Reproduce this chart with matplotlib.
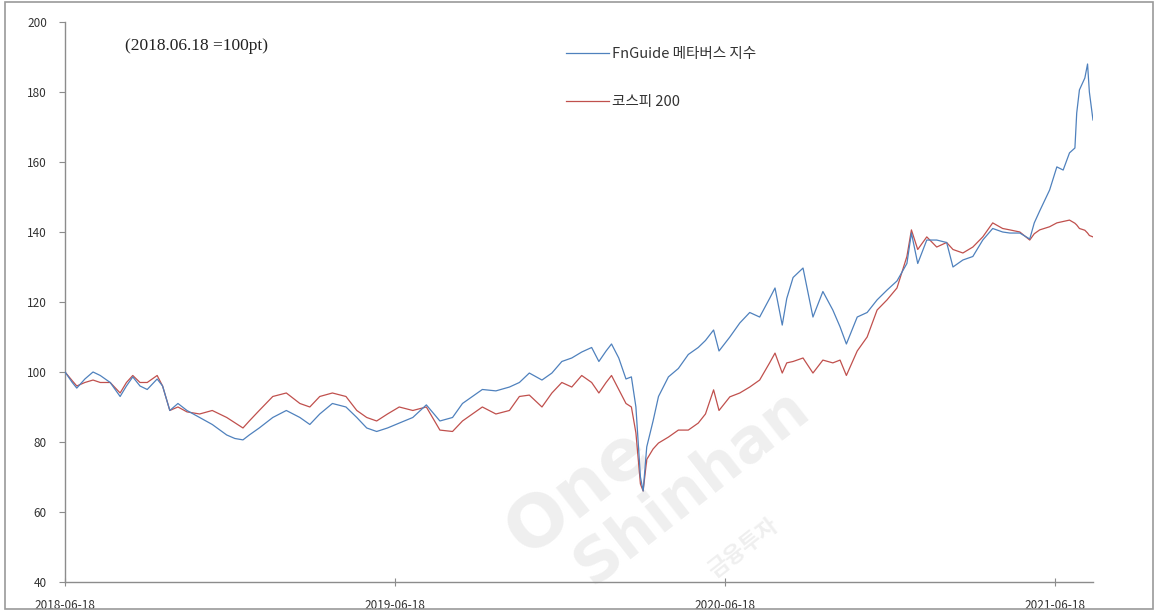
import matplotlib
matplotlib.use("Agg")
import matplotlib.pyplot as plt
import matplotlib.dates as mdates
import pandas as pd
from matplotlib.patches import Rectangle

plt.rcParams['font.family'] = ['Noto Sans CJK KR', 'DejaVu Sans']

# sample dates (irregular)
dates = [
    "2018-06-18", "2018-06-26", "2018-07-01", "2018-07-10", "2018-07-19", "2018-07-27",
    "2018-08-07", "2018-08-18", "2018-08-25", "2018-09-01", "2018-09-09", "2018-09-17",
    "2018-09-28", "2018-10-04", "2018-10-12", "2018-10-21", "2018-10-31", "2018-11-14",
    "2018-11-28", "2018-12-14", "2018-12-23", "2019-01-01", "2019-01-08", "2019-01-19",
    "2019-02-03", "2019-02-18", "2019-03-05", "2019-03-16", "2019-03-27", "2019-04-10",
    "2019-04-25", "2019-05-07", "2019-05-18", "2019-05-29", "2019-06-10", "2019-06-23",
    "2019-07-08", "2019-07-23", "2019-08-07", "2019-08-21", "2019-09-01", "2019-09-12",
    "2019-09-23", "2019-10-08", "2019-10-23", "2019-11-03", "2019-11-14", "2019-11-28",
    "2019-12-09", "2019-12-20", "2019-12-31", "2020-01-11", "2020-01-22", "2020-01-30",
    "2020-02-07", "2020-02-13", "2020-02-21", "2020-02-29", "2020-03-06", "2020-03-11",
    "2020-03-16", "2020-03-19", "2020-03-23", "2020-03-30", "2020-04-05", "2020-04-16",
    "2020-04-27", "2020-05-08", "2020-05-19", "2020-05-27", "2020-06-05", "2020-06-11",
    "2020-06-23", "2020-07-04", "2020-07-15", "2020-07-26", "2020-08-06", "2020-08-12",
    "2020-08-20", "2020-08-25", "2020-09-01", "2020-09-12", "2020-09-23", "2020-10-04",
    "2020-10-15", "2020-10-23", "2020-10-30", "2020-11-11", "2020-11-22", "2020-12-03",
    "2020-12-14", "2020-12-25", "2021-01-05", "2021-01-10", "2021-01-17", "2021-01-27",
    "2021-02-07", "2021-02-18", "2021-02-25", "2021-03-08", "2021-03-19", "2021-03-30",
    "2021-04-10", "2021-04-21", "2021-04-29", "2021-05-10", "2021-05-21", "2021-05-26",
    "2021-06-01", "2021-06-12", "2021-06-20", "2021-06-27", "2021-07-04", "2021-07-10",
    "2021-07-12", "2021-07-15", "2021-07-21", "2021-07-24", "2021-07-26", "2021-07-30",
]

metaverse = [
    100, 97, 95.4, 98, 100, 99,
    97, 93, 96, 98.6, 96, 95,
    98, 96, 89, 91, 89, 87,
    85, 82, 81, 80.6, 82, 84,
    87, 89, 87, 85, 88, 91,
    90, 87, 84, 83, 84, 85.4,
    87, 90.6, 86, 87, 91, 93,
    95, 94.6, 95.7, 97, 99.7, 97.7,
    99.7, 103, 104, 105.7, 107, 103,
    106, 108, 104, 98, 98.6, 90,
    70, 66, 78.6, 86, 93, 98.6,
    101, 105, 107, 109, 112, 106,
    110, 114, 117, 115.7, 121, 124,
    113.4, 121, 127, 129.7, 115.7, 123,
    117.7, 112.9, 108, 115.7, 117, 120.6,
    123.4, 126, 131, 139.7, 131, 137.7,
    137.7, 137, 130, 132, 133, 137.7,
    141, 140, 139.7, 139.7, 138, 142.6,
    146, 152, 158.6, 157.7, 162.6, 164,
    174, 180.6, 184, 188, 180, 172,
]

kospi200 = [
    100, 97.5, 96, 97, 97.7, 97,
    97, 94, 97, 99, 97, 97,
    99, 96, 89, 90, 88.6, 88,
    89, 87, 85.5, 84, 86, 89,
    93, 94, 91, 90, 93, 94,
    93, 89, 87, 86, 88, 90,
    89, 90, 83.4, 83, 86, 88,
    90, 88, 89, 93, 93.4, 90,
    94, 97, 95.7, 99, 97, 94,
    97, 99, 95, 91, 90, 82.6,
    68, 66, 75, 78, 79.7, 81.4,
    83.4, 83.4, 85.4, 88, 94.9, 89,
    92.9, 94, 95.7, 97.7, 102.6, 105.4,
    99.7, 102.6, 103, 104, 99.7, 103.4,
    102.6, 103.4, 99, 106, 110, 117.7,
    120.6, 124, 133, 140.6, 135, 138.6,
    135.7, 137, 135, 134, 135.7, 138.6,
    142.6, 141, 140.6, 140, 137.7, 139.5,
    140.6, 141.5, 142.6, 143, 143.4, 142.5,
    142, 141, 140.5, 139.7, 139, 138.6,
]

tick_dates = ["2018-06-18", "2019-06-18", "2020-06-18", "2021-06-18"]
y_ticks = [40, 60, 80, 100, 120, 140, 160, 180, 200]

x = pd.to_datetime(dates)

fig = plt.figure(figsize=(11.55, 6.11), dpi=100)
ax = fig.add_axes([0.0563, 0.0475, 0.89, 0.9165])

# faint watermark
wm = '#efefef'
ax.text(0.50, 0.16, "One", transform=ax.transAxes, fontsize=52, fontweight='bold',
        color=wm, rotation=38, ha='center', va='center', zorder=0,
        family=['DejaVu Sans'])
ax.text(0.61, 0.17, "Shinhan", transform=ax.transAxes, fontsize=44, fontweight='bold',
        color=wm, rotation=38, ha='center', va='center', zorder=0,
        family=['DejaVu Sans'])
ax.text(0.66, 0.06, "금융투자", transform=ax.transAxes, fontsize=16, fontweight='bold',
        color=wm, rotation=38, ha='center', va='center', zorder=0)

ax.plot(x, metaverse, color='#4f81bd', lw=0.9, label='FnGuide 메타버스 지수', zorder=3)
ax.plot(x, kospi200, color='#c0504d', lw=0.9, label='코스피 200', zorder=2)

ax.set_ylim(40, 200)
ax.set_xlim(x[0], x[-1])
ax.set_yticks(y_ticks)
ax.set_xticks(pd.to_datetime(tick_dates))
ax.xaxis.set_major_formatter(mdates.DateFormatter('%Y-%m-%d'))

for s in ['top', 'right']:
    ax.spines[s].set_visible(False)
for s in ['left', 'bottom']:
    ax.spines[s].set_color('#8c8c8c')
    ax.spines[s].set_linewidth(1.0)

ax.tick_params(axis='y', length=4, width=0.8, color='#8c8c8c', pad=9,
               labelsize=8.5, labelcolor='#333333')
ax.tick_params(axis='x', direction='inout', length=6, width=0.8, color='#8c8c8c',
               pad=9, labelsize=8.5, labelcolor='#333333')

ax.text(0.058, 0.958, "(2018.06.18 =100pt)", transform=ax.transAxes,
        family=['Liberation Serif'], fontsize=12.5, color='#222222', va='center')

leg = ax.legend(loc='upper left', bbox_to_anchor=(0.475, 0.978), frameon=False,
                handlelength=2.9, labelspacing=2.3, fontsize=10.5, handletextpad=0.25)
for t in leg.get_texts():
    t.set_color('#333333')

# outer frame of the picture
fig.patches.append(Rectangle((0.004, 0.003), 0.994, 0.994, transform=fig.transFigure,
                             fill=False, edgecolor='#9a9a9a', lw=1.2))

fig.savefig("out.png", dpi=100)
